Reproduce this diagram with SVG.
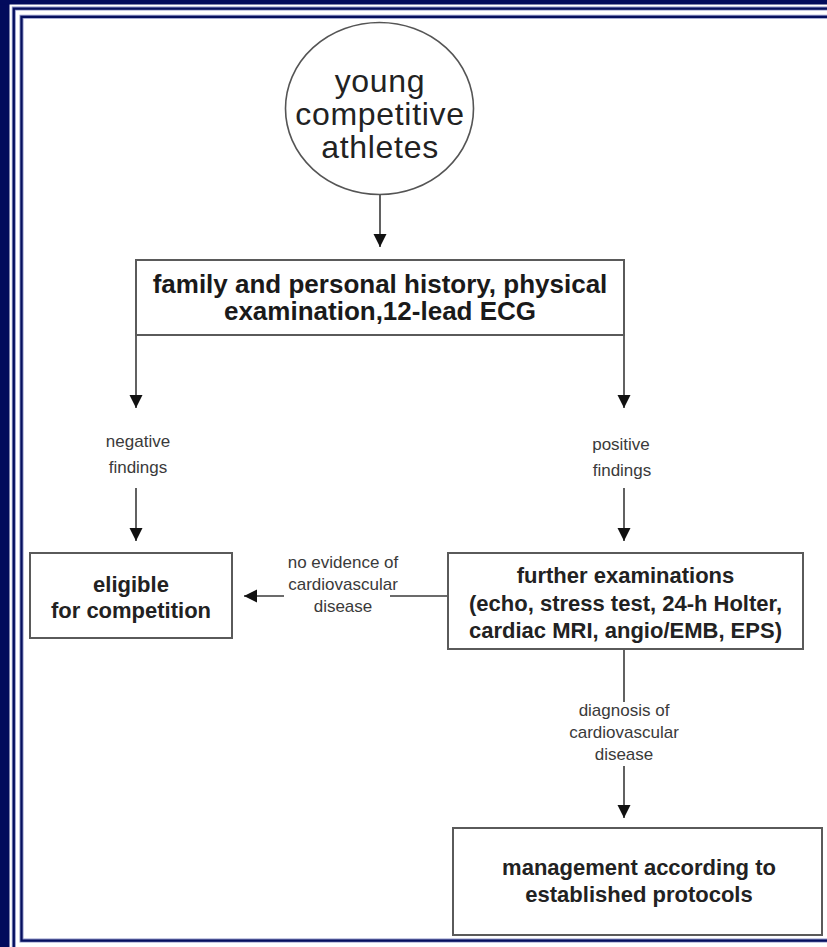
<svg xmlns="http://www.w3.org/2000/svg" width="827" height="947" viewBox="0 0 827 947">
<defs>
<style>
.frame-halo{fill:none;stroke:#8c92c6;stroke-width:4}
.frame-core{fill:none;stroke:#050f5e;stroke-width:2.2}
.box{fill:#ffffff;stroke:#5a5a5a;stroke-width:2}
.conn{fill:none;stroke:#3a3a3a;stroke-width:1.6}
.t-main{font-family:"Liberation Sans",Arial,sans-serif;font-size:32px;letter-spacing:0.7px;fill:#222;text-anchor:middle}
.t-bold{font-family:"Liberation Sans",Arial,sans-serif;font-size:22px;font-weight:bold;fill:#222;text-anchor:middle}
.t-head{font-family:"Liberation Sans",Arial,sans-serif;font-size:26px;font-weight:bold;fill:#1a1a1a;text-anchor:middle}
.t-lab{font-family:"Liberation Sans",Arial,sans-serif;font-size:17px;fill:#3a3a3a;text-anchor:middle}
</style>
<marker id="arr" markerUnits="userSpaceOnUse" markerWidth="14" markerHeight="14" refX="13" refY="6.5" orient="auto">
<path d="M0,0 L13,6.5 L0,13 z" fill="#111"/>
</marker>
</defs>
<rect x="0" y="0" width="827" height="947" fill="#ffffff"/>
<g id="frame">
<rect x="0" y="0" width="9.5" height="947" fill="#020b5c"/>
<rect x="0" y="0" width="827" height="4.5" fill="#020b5c"/>
<path class="frame-halo" d="M13.8 947 V8.6 H827"/>
<path class="frame-core" d="M13.8 947 V8.6 H827"/>
<path class="frame-halo" d="M827 16.8 H21.5 V940.6 H827"/>
<path class="frame-core" d="M827 16.8 H21.5 V940.6 H827"/>
</g>
<g id="connectors">
<path class="conn" d="M380 195 V247" marker-end="url(#arr)"/>
<path class="conn" d="M136 335 V408" marker-end="url(#arr)"/>
<path class="conn" d="M624 335 V408" marker-end="url(#arr)"/>
<path class="conn" d="M136 488 V541" marker-end="url(#arr)"/>
<path class="conn" d="M624 488 V541" marker-end="url(#arr)"/>
<path class="conn" d="M448 596 H390"/>
<path class="conn" d="M284 596 H244" marker-end="url(#arr)"/>
<path class="conn" d="M624 649 V702"/>
<path class="conn" d="M624 766 V818" marker-end="url(#arr)"/>
<text class="t-lab" x="138" y="447">negative</text>
<text class="t-lab" x="138" y="473">findings</text>
<text class="t-lab" x="621" y="450">positive</text>
<text class="t-lab" x="622" y="476">findings</text>
<text class="t-lab" x="343" y="568">no evidence of</text>
<text class="t-lab" x="343" y="590">cardiovascular</text>
<text class="t-lab" x="343" y="612">disease</text>
<text class="t-lab" x="624" y="716">diagnosis of</text>
<text class="t-lab" x="624" y="738">cardiovascular</text>
<text class="t-lab" x="624" y="760">disease</text>
</g>
<g id="athletes">
<ellipse cx="379.5" cy="108.5" rx="94" ry="86" fill="#fff" stroke="#555" stroke-width="1.6"/>
<text class="t-main" x="380" y="92">young</text>
<text class="t-main" x="380" y="125">competitive</text>
<text class="t-main" x="380" y="158">athletes</text>
</g>
<g id="history">
<rect class="box" x="136" y="260" width="488" height="75"/>
<text class="t-head" x="380" y="293">family and personal history, physical</text>
<text class="t-head" x="380" y="320">examination,12-lead ECG</text>
</g>
<g id="eligible">
<rect class="box" x="30" y="553" width="202" height="85"/>
<text class="t-bold" x="131" y="592">eligible</text>
<text class="t-bold" x="131" y="618">for competition</text>
</g>
<g id="further">
<rect class="box" x="448" y="553" width="355" height="96"/>
<text class="t-bold" x="625.5" y="583">further examinations</text>
<text class="t-bold" x="625.5" y="611">(echo, stress test, 24-h Holter,</text>
<text class="t-bold" x="625.5" y="638">cardiac MRI, angio/EMB, EPS)</text>
</g>
<g id="management">
<rect class="box" x="453" y="828" width="369" height="107"/>
<text class="t-bold" x="639" y="875">management according to</text>
<text class="t-bold" x="639" y="902">established protocols</text>
</g>
</svg>
